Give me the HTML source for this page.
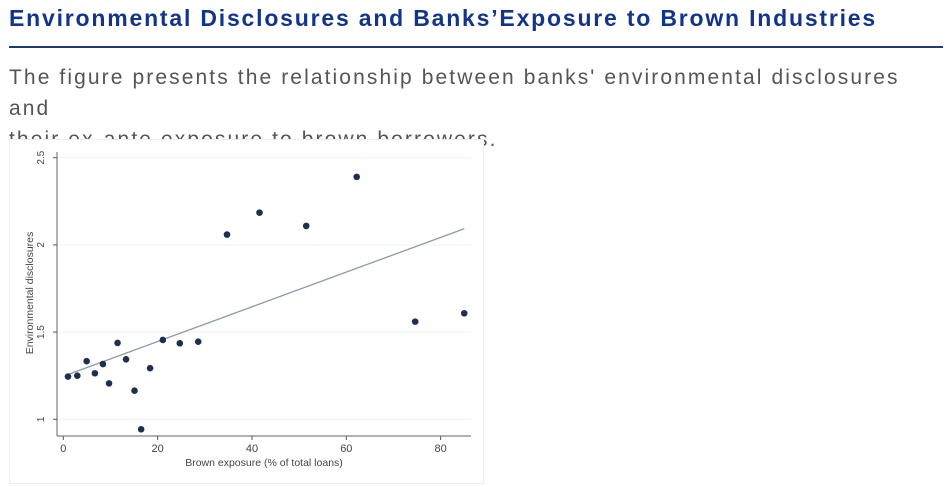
<!DOCTYPE html>
<html><head><meta charset="utf-8"><style>
body{margin:0;width:949px;height:487px;background:#fff;overflow:hidden;position:relative;font-family:"Liberation Sans",sans-serif}
#title{position:absolute;left:9px;top:5px;font-size:23px;font-weight:bold;color:#12358a;letter-spacing:1.8px;white-space:nowrap}
#rule{position:absolute;left:9px;top:46px;width:934px;height:2px;background:#1d3a7f}
#desc{position:absolute;left:9px;top:62px;font-size:21px;letter-spacing:2.1px;line-height:31px;color:#555;width:918px}
svg{position:absolute;left:0;top:0}
</style></head><body>
<div id="title">Environmental Disclosures and Banks’Exposure to Brown Industries</div>
<div id="rule"></div>
<div id="desc">The figure presents the relationship between banks' environmental disclosures and<br>their ex-ante exposure to brown borrowers.</div>
<svg id="chart" width="949" height="487"></svg>
<script>
const xVals=[0.99,2.97,4.95,6.7,8.4,9.7,11.5,13.3,15.1,16.5,18.4,21.1,24.7,28.6,34.7,41.6,51.5,62.2,74.6,85.0];
const yVals=[1.245,1.25,1.333,1.264,1.317,1.206,1.438,1.344,1.164,0.943,1.293,1.455,1.436,1.445,2.059,2.185,2.109,2.39,1.56,1.608];
const xTicks=[0,20,40,60,80];
const yTicks=[1,1.5,2,2.5];
const fitIntercept=1.247, fitSlope=0.00995, fitRange=[0.7,85];
const NS="http://www.w3.org/2000/svg";
const svg=document.getElementById('chart');
const X=v=>63.3+v*4.717;
const Y=v=>419.3-(v-1)*174.4;
function mk(t,a){const e=document.createElementNS(NS,t);for(const k in a)e.setAttribute(k,a[k]);svg.appendChild(e);return e;}
const frame=mk('rect',{x:9.5,y:139.5,width:474,height:344,fill:'#fff',stroke:'#eee'});


yTicks.forEach(t=>{
 const g=mk('line',{x1:57,x2:471,y1:Y(t),y2:Y(t),stroke:'#f0f0f0'});
 
 
 const tk=mk('line',{x1:53,x2:57,y1:Y(t),y2:Y(t),stroke:'#555'});
 
 
 const lb=mk('text',{x:44,y:Y(t),'font-size':10,fill:'#444','text-anchor':'middle',transform:`rotate(-90 44 ${Y(t)})`});
 lb.textContent=String(t);
 
 
});
xTicks.forEach(t=>{
 const tk=mk('line',{x1:X(t),x2:X(t),y1:436,y2:440,stroke:'#555'});
 
 
 const lb=mk('text',{x:X(t),y:452,'font-size':11,fill:'#444','text-anchor':'middle'});
 lb.textContent=String(t);
 
 
});
const ya=mk('line',{x1:57,x2:57,y1:152,y2:436,stroke:'#666'});


const xa=mk('line',{x1:57,x2:471,y1:436,y2:436,stroke:'#666'});


const xt=mk('text',{x:264,y:466,'font-size':10.5,fill:'#444','text-anchor':'middle'});
xt.textContent='Brown exposure (% of total loans)';


const yt=mk('text',{x:33,y:293,'font-size':10.5,fill:'#444','text-anchor':'middle',transform:'rotate(-90 33 293)'});
yt.textContent='Environmental disclosures';


const fl=mk('line',{x1:X(fitRange[0]),y1:Y(fitIntercept+fitSlope*fitRange[0]),x2:X(fitRange[1]),y2:Y(fitIntercept+fitSlope*fitRange[1]),stroke:'#8a9aa6','stroke-width':1.3});


xVals.forEach((x,i)=>{
 const c=mk('circle',{cx:X(x),cy:Y(yVals[i]),r:3.3,fill:'#1c3150'});
 
 
});
</script>
</body></html>
